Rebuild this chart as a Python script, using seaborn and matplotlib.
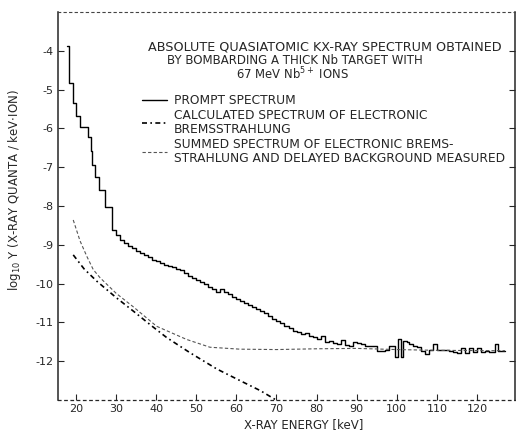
import numpy as np
import pandas as pd
import matplotlib
matplotlib.use("Agg")
import matplotlib.pyplot as plt
import seaborn as sns

# Prompt spectrum: left bin edges (keV) and log10 Y values
prompt_x = [17.8, 18.3, 19.2, 20.1, 21.1, 23.1, 23.7, 23.9, 24.7, 25.8, 27.2, 28.9, 30.0,
            31, 32, 33, 34, 35, 36, 37, 38, 39, 40, 41, 42, 43, 44, 45, 46, 47, 48, 49, 50,
            51, 52, 53, 54, 55, 56, 57, 58, 59, 60, 61, 62, 63, 64, 65, 66, 67, 68, 69, 70,
            71, 72, 73, 74, 75, 76, 77, 78, 79, 80, 81, 82, 83, 84, 85, 86, 87, 88, 89, 90,
            91, 92, 93, 94, 95, 96, 97, 98, 99.5, 100.3, 101, 101.5, 102.5, 103, 104, 105,
            106, 107, 108, 109, 110, 111, 112, 113, 114, 115, 116, 117, 118, 119, 120, 121,
            122, 123, 124.5, 125.3, 127]
prompt_y = [-3.87, -4.83, -5.35, -5.67, -5.97, -6.22, -6.58, -6.95, -7.25, -7.59, -8.02, -8.62, -8.74,
            -8.87, -8.95, -9.02, -9.08, -9.15, -9.22, -9.26, -9.32, -9.38, -9.43, -9.47, -9.52, -9.55,
            -9.58, -9.62, -9.66, -9.72, -9.80, -9.85, -9.90, -9.95, -10.0, -10.08, -10.15, -10.22,
            -10.14, -10.22, -10.28, -10.35, -10.40, -10.44, -10.50, -10.55, -10.60, -10.66, -10.70,
            -10.76, -10.83, -10.90, -10.96, -11.02, -11.08, -11.14, -11.22, -11.26, -11.30, -11.28,
            -11.35, -11.38, -11.42, -11.34, -11.50, -11.48, -11.52, -11.55, -11.45, -11.58, -11.60,
            -11.51, -11.52, -11.55, -11.60, -11.62, -11.62, -11.74, -11.74, -11.72, -11.60, -11.90,
            -11.44, -11.90, -11.48, -11.50, -11.55, -11.60, -11.64, -11.74, -11.82, -11.70, -11.55,
            -11.70, -11.72, -11.72, -11.74, -11.76, -11.78, -11.65, -11.78, -11.65, -11.76, -11.65,
            -11.76, -11.74, -11.76, -11.55, -11.75, -11.75]

# Calculated spectrum of electronic bremsstrahlung
brems_x = [19.3, 22.0, 25.2, 30.0, 34.3, 38.5, 42.6, 48.4, 55.1, 60.9, 66.0, 69.9]
brems_y = [-9.26, -9.62, -9.94, -10.36, -10.71, -11.06, -11.39, -11.78, -12.2, -12.5, -12.76, -13.0]

# Summed spectrum of bremsstrahlung and delayed background
summed_x = [19.3, 21.0, 22.7, 24.3, 26.0, 30.0, 34.3, 40.1, 47.6, 53.4, 60.9, 70, 80, 90, 100, 110, 127]
summed_y = [-8.36, -8.9, -9.3, -9.64, -9.85, -10.25, -10.6, -11.1, -11.44, -11.64, -11.69, -11.70,
            -11.68, -11.67, -11.70, -11.72, -11.73]

x_ticks = [20, 30, 40, 50, 60, 70, 80, 90, 100, 110, 120]
y_ticks = [-4, -5, -6, -7, -8, -9, -10, -11, -12]

title_lines = ["ABSOLUTE QUASIATOMIC KX-RAY SPECTRUM OBTAINED",
               "BY BOMBARDING A THICK Nb TARGET WITH",
               "67 MeV Nb$^{5+}$ IONS"]
legend_labels = ["PROMPT SPECTRUM",
                 "CALCULATED SPECTRUM OF ELECTRONIC\nBREMSSTRAHLUNG",
                 "SUMMED SPECTRUM OF ELECTRONIC BREMS-\nSTRAHLUNG AND DELAYED BACKGROUND MEASURED"]

sns.set_style("ticks")
plt.rcParams['font.family'] = ['DejaVu Sans']

fig = plt.figure(figsize=(5.16, 4.34), dpi=100)
ax = fig.add_axes([58/516, 1 - 400/434, (515 - 58)/516, (400 - 12)/434])

df_p = pd.DataFrame({"x": prompt_x, "y": prompt_y})
df_b = pd.DataFrame({"x": brems_x, "y": brems_y})
df_s = pd.DataFrame({"x": summed_x, "y": summed_y})

sns.lineplot(data=df_p, x="x", y="y", ax=ax, drawstyle="steps-post", color="black",
             lw=1.0, label=legend_labels[0], sort=False, estimator=None)
sns.lineplot(data=df_b, x="x", y="y", ax=ax, color="black", lw=1.2,
             linestyle=(0, (3, 2, 1, 2)), label=legend_labels[1], sort=False, estimator=None)
sns.lineplot(data=df_s, x="x", y="y", ax=ax, color="#555555", lw=0.8,
             linestyle=(0, (3, 2)), label=legend_labels[2], sort=False, estimator=None)

ax.set_xlim(15.5, 129.5)
ax.set_ylim(-13, -3)
ax.set_xticks(x_ticks)
ax.set_yticks(y_ticks)
ax.set_yticklabels([f"{v}" for v in y_ticks])
ax.tick_params(direction="in", length=4, width=0.8, labelsize=8, top=False, right=True)
ax.tick_params(axis="x", pad=3)
ax.set_xlabel("")
ax.set_ylabel("")
for s in ["left", "right"]:
    ax.spines[s].set_linewidth(1.1)
ax.spines["top"].set_linestyle((0, (2, 3)))
ax.spines["top"].set_color("#444444")
ax.spines["top"].set_linewidth(0.8)
ax.spines["bottom"].set_linestyle((0, (2, 3)))
ax.spines["bottom"].set_linewidth(0.9)

# Title block
fig.text(148/516, 1 - 47/434, title_lines[0], fontsize=9.2, va="center", ha="left")
fig.text(167/516, 1 - 60/434, title_lines[1], fontsize=8.5, va="center", ha="left")
fig.text(236/516, 1 - 74/434, title_lines[2], fontsize=8.4, va="center", ha="left")

leg = ax.legend(loc="upper left", bbox_to_anchor=(136/516, 1 - 88/434),
                bbox_transform=fig.transFigure, frameon=False, fontsize=8.8,
                handlelength=2.0, handletextpad=0.6, labelspacing=0.15, borderpad=0)
for t in leg.get_texts():
    t.set_linespacing(1.1)

fig.text(15/516, 1 - 190/434, r"log$_{10}$ Y (X-RAY QUANTA / keV$\cdot$ION)",
         rotation=90, fontsize=8.5, va="center", ha="center")
fig.text(304/516, 1 - 425/434, "X-RAY ENERGY [keV]", fontsize=8.5, va="center", ha="center")

fig.savefig("out.png", dpi=100)
